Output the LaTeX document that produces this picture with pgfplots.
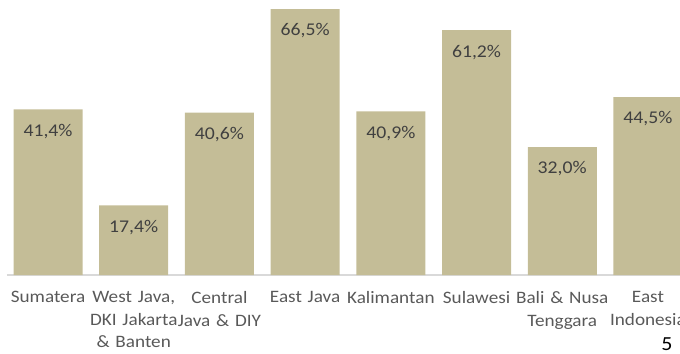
\documentclass[border=0pt]{standalone}
\usepackage{pgfplots}
\pgfplotsset{compat=1.18}
\usepackage{fontspec}
\setmainfont{Carlito}[FakeStretch=1.1]
\definecolor{bartan}{HTML}{C4BD97}
\definecolor{valtxt}{HTML}{404040}
\definecolor{cattxt}{HTML}{595959}
\definecolor{axgray}{HTML}{D9D9D9}
\begin{document}
\begin{tikzpicture}
\path[use as bounding box] (0,0) rectangle (680bp,354bp);
\begin{axis}[
  scale only axis,
  anchor=south west,
  at={(6.9bp,79bp)},
  width=683.9bp, height=280bp,
  xmin=-0.48, xmax=7.5, ymin=0, ymax=70,
  axis x line*=bottom,
  axis y line=none,
  x axis line style={draw=axgray, line width=1.2bp, -},
  xtick={0,1,2,3,4,5,6,7},
  xticklabels={Sumatera, {West Java,\\DKI Jakarta\\\& Banten}, {Central\\Java \& DIY}, East Java, Kalimantan, Sulawesi, {Bali \& Nusa\\Tenggara}, {East\\Indonesia}},
  major tick length=0pt,
  xticklabel style={font=\fontsize{17.5}{22.5}\selectfont, text=cattxt, text width=95bp, align=center, anchor=north, yshift=-13bp},
  ybar, bar width=69bp,
  point meta=explicit symbolic,
  nodes near coords,
  every node near coord/.append style={font=\fontsize{18}{20}\selectfont, text=valtxt, anchor=center, yshift=-22bp},
  clip=false,
]
\addplot[fill=bartan, draw=none] coordinates {
  (0,41.4) [41,4\%]
  (1,17.4) [17,4\%]
  (2,40.6) [40,6\%]
  (3,66.5) [66,5\%]
  (4,40.9) [40,9\%]
  (5,61.2) [61,2\%]
  (6,32.0) [32,0\%]
  (7,44.5) [44,5\%]
};
\end{axis}
\node[font=\fontsize{20}{24}\selectfont, text=black] at (667bp,10bp) {5};
\end{tikzpicture}
\end{document}
